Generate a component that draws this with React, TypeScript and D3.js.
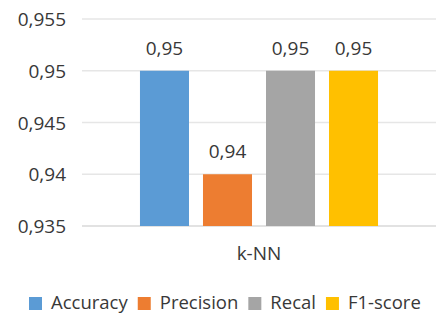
import React, { useEffect, useRef } from "react";
import * as d3 from "d3";

// chart data
const categories = ["k-NN"];
const seriesNames = ["Accuracy", "Precision", "Recal", "F1-score"];
const seriesValues = [0.95, 0.94, 0.95, 0.95];
const seriesColors = ["#5B9BD5", "#ED7D31", "#A5A5A5", "#FFC000"];
const yTicks = [0.935, 0.94, 0.945, 0.95, 0.955];

const W = 438;
const H = 313;
const FONT = "'Open Sans', sans-serif";
const TEXT = "#383838";

const fmt = (v: number) => String(+v.toFixed(3)).replace(".", ",");

export default function App() {
  const ref = useRef<SVGSVGElement>(null);

  useEffect(() => {
    const svg = d3.select(ref.current);
    svg.selectAll("*").remove();

    const margin = { top: 19, right: 2, bottom: 87, left: 82 };
    const y = d3.scaleLinear().domain([0.935, 0.955]).range([H - margin.bottom, margin.top]);
    const x0 = d3.scaleBand().domain(categories).range([margin.left, W - margin.right]);
    const x1 = d3
      .scaleBand()
      .domain(seriesNames)
      .range([0, x0.bandwidth()])
      .paddingInner(0.222)
      .paddingOuter(0.92);

    const g = svg.append("g");

    // gridlines
    g.selectAll(".grid")
      .data(yTicks)
      .join("line")
      .attr("x1", margin.left)
      .attr("x2", W - margin.right)
      .attr("y1", (d) => y(d))
      .attr("y2", (d) => y(d))
      .attr("stroke", (d) => (d === 0.935 ? "#d9d9d9" : "#e6e6e6"))
      .attr("stroke-width", 1.3);

    // y tick labels
    g.selectAll(".ytick")
      .data(yTicks)
      .join("text")
      .attr("x", 66)
      .attr("y", (d) => y(d) + 7)
      .attr("text-anchor", "end")
      .attr("font-family", FONT)
      .attr("font-size", 19)
      .attr("fill", TEXT)
      .text((d) => fmt(d));

    // bars
    const cat = categories[0];
    g.selectAll(".bar")
      .data(seriesValues)
      .join("rect")
      .attr("x", (_d, i) => x0(cat)! + x1(seriesNames[i])!)
      .attr("y", (d) => y(d))
      .attr("width", x1.bandwidth())
      .attr("height", (d) => y(0.935) - y(d))
      .attr("fill", (_d, i) => seriesColors[i]);

    // value labels
    g.selectAll(".lbl")
      .data(seriesValues)
      .join("text")
      .attr("x", (_d, i) => x0(cat)! + x1(seriesNames[i])! + x1.bandwidth() / 2)
      .attr("y", (d) => y(d) - 16)
      .attr("text-anchor", "middle")
      .attr("font-family", FONT)
      .attr("font-size", 19)
      .attr("fill", TEXT)
      .text((d) => fmt(d));

    // category label
    g.selectAll(".cat")
      .data(categories)
      .join("text")
      .attr("x", (d) => x0(d)! + x0.bandwidth() / 2)
      .attr("y", 260)
      .attr("text-anchor", "middle")
      .attr("font-family", FONT)
      .attr("font-size", 19)
      .attr("fill", TEXT)
      .text((d) => d);

    // legend
    const legend = svg.append("g");
    let lx = 29;
    seriesNames.forEach((name, i) => {
      legend
        .append("rect")
        .attr("x", lx)
        .attr("y", 297)
        .attr("width", 13)
        .attr("height", 13)
        .attr("fill", seriesColors[i]);
      const t = legend
        .append("text")
        .attr("x", lx + 22)
        .attr("y", 309)
        .attr("font-family", FONT)
        .attr("font-size", 18.5)
        .attr("fill", TEXT)
        .text(name);
      const w = (t.node() as SVGTextElement).getComputedTextLength();
      lx += 22 + w + 10;
    });
  }, []);

  return (
    <svg
      ref={ref}
      width={W}
      height={H}
      style={{ position: "absolute", left: 0, top: 0, background: "#fff" }}
    />
  );
}
